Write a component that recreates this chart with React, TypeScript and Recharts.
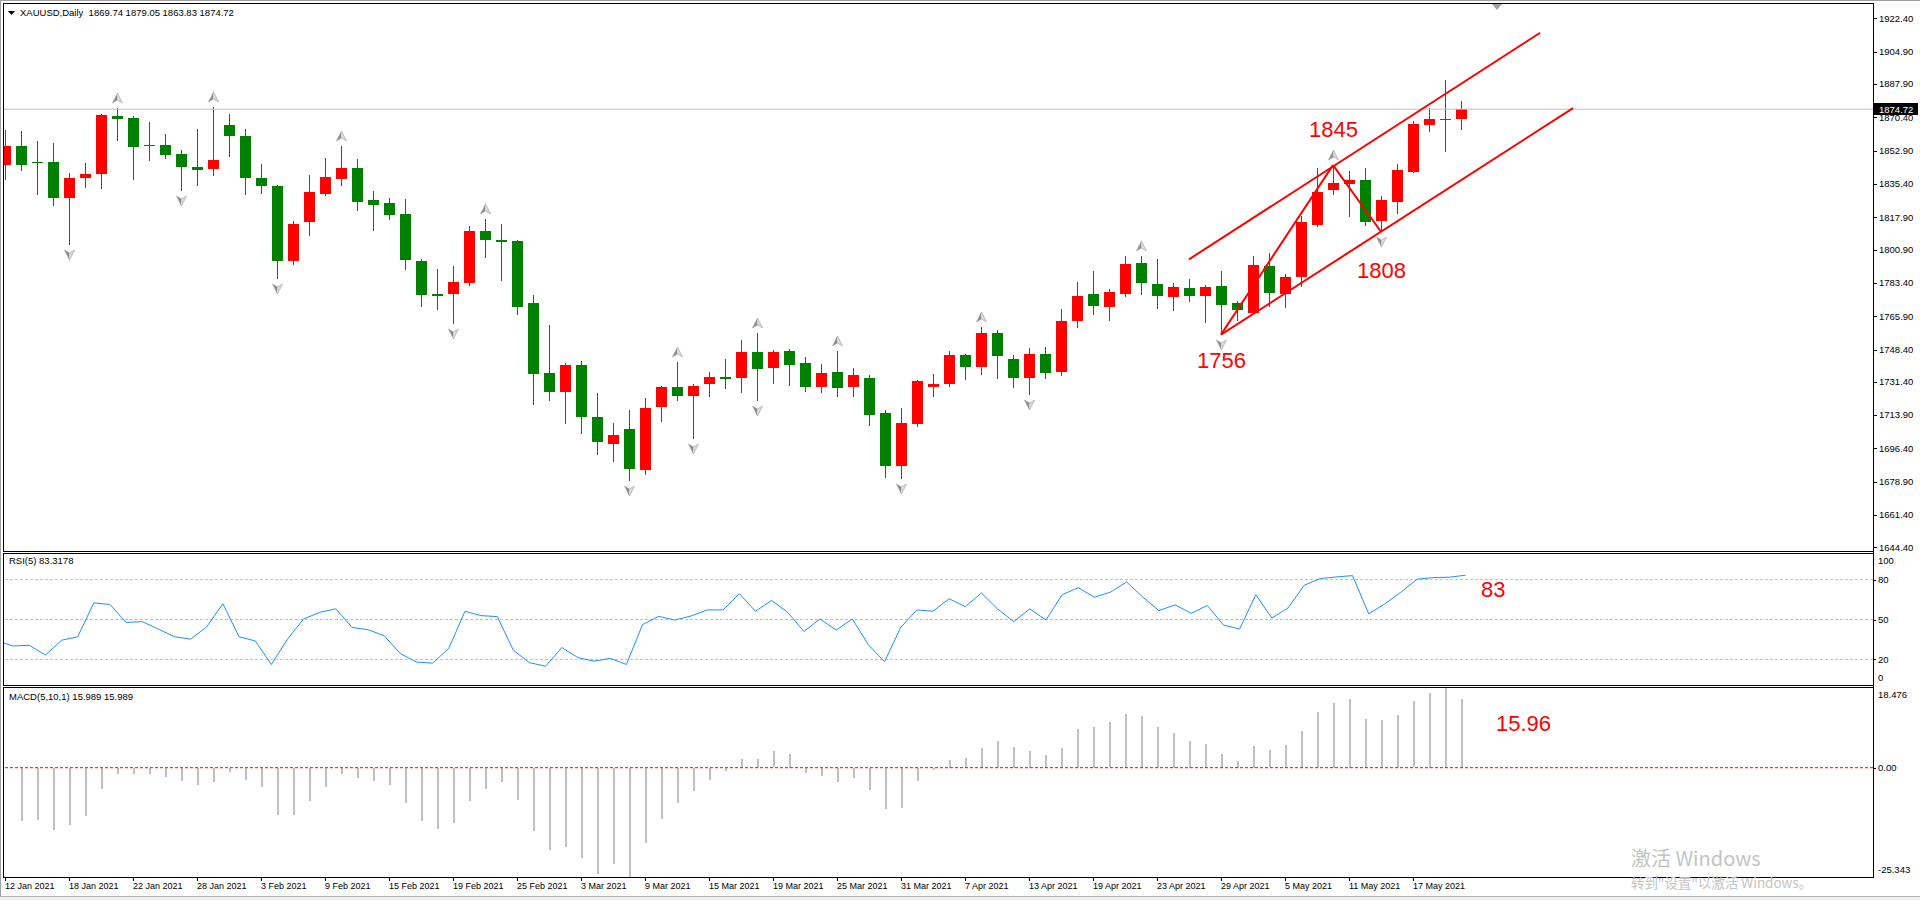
import React from 'react';
import { ComposedChart, Bar, Line, XAxis, YAxis, ReferenceLine } from 'recharts';

const dates = [
  '12 Jan', '13 Jan', '14 Jan', '15 Jan', '18 Jan', '19 Jan', '20 Jan', '21 Jan', '22 Jan', '25 Jan', '26 Jan', '27 Jan', '28 Jan', '29 Jan',
  '1 Feb', '2 Feb', '3 Feb', '4 Feb', '5 Feb', '8 Feb', '9 Feb', '10 Feb', '11 Feb', '12 Feb', '15 Feb', '16 Feb', '17 Feb', '18 Feb', '19 Feb', '22 Feb', '23 Feb', '24 Feb', '25 Feb', '26 Feb',
  '1 Mar', '2 Mar', '3 Mar', '4 Mar', '5 Mar', '8 Mar', '9 Mar', '10 Mar', '11 Mar', '12 Mar', '15 Mar', '16 Mar', '17 Mar', '18 Mar', '19 Mar', '22 Mar', '23 Mar', '24 Mar', '25 Mar', '26 Mar', '29 Mar', '30 Mar', '31 Mar',
  '1 Apr', '5 Apr', '6 Apr', '7 Apr', '8 Apr', '9 Apr', '12 Apr', '13 Apr', '14 Apr', '15 Apr', '16 Apr', '19 Apr', '20 Apr', '21 Apr', '22 Apr', '23 Apr', '26 Apr', '27 Apr', '28 Apr', '29 Apr', '30 Apr',
  '3 May', '4 May', '5 May', '6 May', '7 May', '10 May', '11 May', '12 May', '13 May', '14 May', '17 May', '18 May', '19 May', '20 May',
];

const opens = [
  1845.3, 1855.6, 1846.8, 1847.2, 1828.1, 1838.5, 1840.6, 1871.2, 1870.2, 1855.2, 1856.1, 1850.9, 1844.5, 1843.1,
  1866.5, 1860.8, 1838.4, 1834.2, 1794.7, 1815.6, 1830.2, 1838.0, 1843.6, 1826.9, 1825.3, 1819.6, 1795.1, 1777.8, 1777.5, 1783.2, 1810.7, 1805.8, 1805.5, 1772.6,
  1736.0, 1726.3, 1740.1, 1713.1, 1698.8, 1706.4, 1685.1, 1718.0, 1728.7, 1724.2, 1730.4, 1733.7, 1733.5, 1746.9, 1738.7, 1747.4, 1741.1, 1728.9, 1736.5, 1728.9, 1733.4, 1715.2, 1687.3,
  1709.0, 1728.9, 1730.4, 1745.3, 1739.2, 1757.2, 1743.4, 1733.2, 1746.0, 1736.8, 1763.3, 1777.7, 1770.6, 1777.8, 1793.7, 1782.8, 1775.8, 1780.8, 1776.3, 1781.8, 1773.0,
  1767.4, 1792.2, 1777.8, 1786.6, 1814.1, 1832.3, 1835.6, 1837.4, 1815.9, 1825.9, 1841.8, 1866.6, 1869.6, 1869.74,
];
const highs = [
  1864.0, 1863.4, 1858.2, 1857.1, 1841.3, 1846.2, 1872.1, 1875.4, 1871.2, 1868.1, 1861.8, 1853.5, 1864.5, 1876.1,
  1872.3, 1864.5, 1845.7, 1835.1, 1816.0, 1839.9, 1849.3, 1855.6, 1848.3, 1831.6, 1827.9, 1827.4, 1796.1, 1790.9, 1792.5, 1813.3, 1817.0, 1814.4, 1805.8, 1776.8,
  1761.4, 1741.1, 1742.2, 1725.6, 1710.0, 1716.8, 1723.0, 1729.0, 1741.7, 1730.1, 1736.5, 1743.2, 1753.6, 1757.2, 1748.4, 1748.9, 1744.3, 1740.6, 1747.4, 1738.6, 1734.9, 1716.8, 1717.8,
  1732.3, 1735.4, 1747.4, 1746.3, 1760.4, 1758.8, 1745.5, 1749.1, 1749.6, 1769.9, 1783.9, 1789.6, 1780.2, 1797.4, 1797.4, 1795.8, 1783.4, 1785.4, 1782.3, 1789.6, 1774.0,
  1797.4, 1798.9, 1788.0, 1818.4, 1843.7, 1845.3, 1842.0, 1843.7, 1828.9, 1845.8, 1868.6, 1875.4, 1890.2, 1879.05,
];
const lows = [
  1837.5, 1842.2, 1829.7, 1823.7, 1803.1, 1833.2, 1832.6, 1858.2, 1837.5, 1847.4, 1848.3, 1831.8, 1834.4, 1839.6,
  1849.5, 1829.7, 1830.0, 1785.7, 1792.6, 1808.3, 1829.0, 1834.4, 1821.3, 1810.9, 1816.6, 1790.0, 1770.7, 1769.1, 1761.7, 1781.8, 1796.3, 1784.5, 1766.5, 1719.0,
  1721.6, 1709.0, 1704.0, 1693.1, 1689.4, 1679.4, 1682.7, 1710.2, 1721.1, 1701.2, 1723.7, 1727.8, 1725.8, 1721.1, 1730.4, 1729.4, 1726.3, 1725.8, 1723.7, 1723.7, 1708.1, 1681.1, 1680.6,
  1707.6, 1723.2, 1728.9, 1732.5, 1735.1, 1733.0, 1728.0, 1724.4, 1732.7, 1734.7, 1759.7, 1766.4, 1763.3, 1775.8, 1776.8, 1769.5, 1768.5, 1773.2, 1762.3, 1756.2, 1763.6,
  1767.1, 1770.6, 1770.0, 1781.5, 1812.7, 1829.6, 1818.0, 1813.2, 1810.1, 1819.8, 1841.3, 1862.9, 1852.3, 1863.83,
];
const closes = [
  1855.2, 1845.3, 1846.2, 1828.1, 1838.4, 1840.5, 1871.8, 1869.8, 1854.7, 1856.1, 1850.5, 1844.3, 1842.7, 1847.8,
  1860.5, 1838.5, 1834.4, 1794.7, 1814.4, 1831.1, 1838.9, 1843.6, 1826.0, 1824.5, 1819.2, 1795.2, 1777.0, 1776.5, 1784.1, 1810.7, 1806.2, 1805.1, 1770.7, 1735.6,
  1726.3, 1740.1, 1712.8, 1699.8, 1703.3, 1685.8, 1717.8, 1728.7, 1724.2, 1729.2, 1733.9, 1733.0, 1746.9, 1738.2, 1746.9, 1740.3, 1728.9, 1736.0, 1728.3, 1734.9, 1713.8, 1687.3, 1710.0,
  1731.8, 1730.2, 1745.3, 1739.2, 1757.2, 1745.0, 1733.2, 1746.0, 1736.3, 1763.6, 1776.6, 1771.1, 1778.7, 1793.2, 1783.5, 1776.3, 1781.3, 1776.3, 1781.3, 1771.6, 1769.0,
  1792.7, 1778.3, 1786.5, 1815.2, 1831.0, 1835.8, 1837.4, 1815.4, 1826.8, 1842.7, 1867.0, 1869.6, 1869.3, 1874.72,
];

const rsiValues = [
  33.9, 30.1, 30.6, 23.3, 34.4, 37.0, 62.5, 61.3, 47.8, 48.4, 42.8, 37.0, 35.2, 44.6,
  61.8, 37.0, 33.9, 16.2, 35.2, 50.4, 55.4, 58.0, 44.1, 42.3, 37.7, 24.3, 18.0, 17.2, 28.4, 56.2, 52.9, 52.2, 26.8, 17.5,
  14.9, 28.9, 21.3, 18.7, 20.8, 16.2, 46.1, 52.4, 49.6, 52.6, 57.2, 57.2, 69.4, 56.2, 64.3, 55.4, 41.0, 50.4, 42.0, 50.4, 30.9, 18.2, 44.1,
  57.2, 56.2, 65.6, 59.7, 69.9, 58.0, 48.4, 58.0, 49.6, 68.6, 73.9, 66.8, 70.6, 78.2, 66.8, 56.7, 61.0, 54.7, 60.5, 45.8, 42.8,
  68.6, 51.1, 58.7, 75.7, 80.8, 82.0, 83.0, 54.2, 61.8, 70.6, 80.3, 81.5, 81.8, 83.3178,
];

const macdValues: (number | null)[] = [
  null, -12.4, -12.1, -14.3, -13.3, -11.2, -4.9, -1.4, -1.4, -1.3, -2.2, -3.1, -3.9, -3.3,
  -0.9, -2.7, -4.5, -10.8, -11.0, -7.7, -4.3, -1.4, -2.4, -2.9, -4.0, -8.0, -12.4, -14.2, -12.8, -7.7, -4.9, -3.3, -7.4, -14.7,
  -19.1, -18.3, -20.9, -24.5, -22.3, -25.343, -17.5, -11.8, -8.2, -5.4, -2.7, -0.8, 1.9, 2.1, 3.8, 3.2, -1.2, -1.8, -3.2, -2.4, -5.0, -9.6, -9.2,
  -3.0, -0.5, 1.8, 2.2, 4.6, 6.3, 4.8, 3.9, 2.9, 4.5, 9.0, 9.5, 10.5, 12.5, 12.0, 9.5, 8.0, 6.3, 5.5, 3.2, 1.6,
  5.0, 4.0, 5.2, 8.6, 13.0, 15.0, 16.0, 11.3, 11.0, 12.2, 15.4, 17.4, 18.476, 15.989,
];

const fractalUp = [7, 13, 21, 30, 42, 47, 52, 61, 71, 83];
const fractalDown = [4, 11, 17, 28, 39, 43, 47, 56, 64, 76, 86];

const priceTicks = [1644.4, 1661.4, 1678.9, 1696.4, 1713.9, 1731.4, 1748.4, 1765.9, 1783.4, 1800.9, 1817.9, 1835.4, 1852.9, 1870.4, 1887.9, 1904.9, 1922.4];
const rsiTicks = [0, 20, 50, 80, 100];
const rsiLevels = [20, 50, 80];
const macdTicks = [-25.343, 0, 18.476];
const bidPrice = 1874.72;
const shiftBars = 25;

const upperChannel = [{ x: 74, y: 1795.8 }, { x: 95.95, y: 1914.9 }];
const lowerChannel = [{ x: 76, y: 1756.2 }, { x: 98, y: 1875.3 }];
const zigzag = [{ x: 76, y: 1756.2 }, { x: 83, y: 1845.3 }, { x: 86, y: 1810.3 }];

const rows = Array.from({ length: dates.length + shiftBars }, (_, i) =>
  i < dates.length
    ? {
        i,
        date: dates[i],
        o: opens[i],
        h: highs[i],
        l: lows[i],
        c: closes[i],
        range: [lows[i], highs[i]],
        rsi: rsiValues[i],
        macd: macdValues[i],
        up: fractalUp.includes(i),
        dn: fractalDown.includes(i),
      }
    : { i }
);

const FONT = '"Liberation Sans", Arial, sans-serif';
const CJK = '"Noto Sans CJK SC", "Noto Sans", sans-serif';
const CHART_W = 1923;

function Arrow({ cx, y, dir }: { cx: number; y: number; dir: number }) {
  const tip = y + dir * 10;
  const notch = y + dir * 3;
  return (
    <g>
      <path d={`M${cx},${tip} L${cx - 5},${y} L${cx},${notch} Z`} fill="#8c8c8c" />
      <path d={`M${cx},${tip} L${cx + 5},${y} L${cx},${notch} Z`} fill="#dcdcdc" />
      <path d={`M${cx},${tip} L${cx + 5},${y} L${cx},${notch} L${cx - 5},${y} Z`} fill="none" stroke="#a0a0a0" strokeWidth={0.6} />
    </g>
  );
}

function Candle(props: any) {
  const { x, y, width, height, payload } = props;
  if (!payload || payload.o == null || x == null || y == null) return null;
  const { o, h, l, c, up, dn } = payload;
  const top = Math.min(y, y + height);
  const span = Math.abs(height);
  const py = (v: number) => (h === l ? top : top + ((h - v) / (h - l)) * span);
  const cx = Math.floor(x + width / 2);
  const color = c > o ? '#FF0000' : '#008000';
  const yh = Math.round(top);
  const yl = Math.round(top + span);
  const y1 = Math.round(py(Math.max(o, c)));
  const y2 = Math.round(py(Math.min(o, c)));
  const ac = cx + 0.5;
  return (
    <g>
      <rect x={cx} y={yh} width={1} height={Math.max(1, yl - yh)} fill={color} />
      <rect x={cx - 5} y={y1} width={11} height={Math.max(1, y2 - y1)} fill={color} />
      {up && <Arrow cx={ac} y={yh - 5} dir={-1} />}
      {dn && <Arrow cx={ac} y={yl + 5} dir={1} />}
    </g>
  );
}

function MacdBar(props: any) {
  const { x, y, width, height, payload } = props;
  if (!payload || payload.macd == null || x == null || y == null) return null;
  const top = Math.min(y, y + height);
  const h = Math.abs(height);
  const cx = Math.floor(x + width / 2);
  return <rect x={cx} y={Math.round(top)} width={2} height={Math.max(1, Math.round(h))} fill="#C0C0C0" />;
}

const PriceTick = (p: any) => {
  const { x, y, payload } = p;
  const yy = Math.round(y) + 0.5;
  return (
    <g>
      <line x1={x} x2={x + 4} y1={yy} y2={yy} stroke="#000" />
      <text x={x + 6} y={y} dy="0.35em" fontSize={9.5} fontFamily={FONT} fill="#000" textAnchor="start">
        {Number(payload.value).toFixed(2)}
      </text>
    </g>
  );
};

const RsiTick = (p: any) => {
  const { x, y, payload } = p;
  const v = Number(payload.value);
  const off = v === 100 ? 8 : v === 0 ? -8 : 0;
  const yy = Math.round(y) + 0.5;
  return (
    <g>
      {v !== 0 && v !== 100 && <line x1={x} x2={x + 3} y1={yy} y2={yy} stroke="#000" />}
      <text x={x + 5} y={y + off} dy="0.35em" fontSize={9.5} fontFamily={FONT} fill="#000" textAnchor="start">
        {String(v)}
      </text>
    </g>
  );
};

const MacdTick = (p: any) => {
  const { x, y, payload } = p;
  const v = Number(payload.value);
  const off = v > 0 ? 7 : v < 0 ? -7 : 0;
  const label = v === 0 ? '0.00' : v.toFixed(3);
  const yy = Math.round(y) + 0.5;
  return (
    <g>
      {v === 0 && <line x1={x} x2={x + 3} y1={yy} y2={yy} stroke="#000" />}
      <text x={x + 5} y={y + off} dy="0.35em" fontSize={9.5} fontFamily={FONT} fill="#000" textAnchor="start">
        {label}
      </text>
    </g>
  );
};

const TimeTick = (p: any) => {
  const { x, y, payload } = p;
  const i = Number(payload.value);
  if (!(i < dates.length)) return null;
  const xx = Math.floor(x);
  return (
    <g>
      <line x1={xx + 0.5} x2={xx + 0.5} y1={y} y2={y + 4} stroke="#000" />
      <text x={xx} y={y + 12} fontSize={9} fontFamily={FONT} fill="#000" textAnchor="start">
        {dates[i] + ' 2021'}
      </text>
    </g>
  );
};

const BidLabel = (props: any) => {
  const vb = props.viewBox || {};
  const yy = vb.y;
  const xr = (vb.x || 0) + (vb.width || 0);
  if (yy == null) return null;
  return (
    <g>
      <rect x={xr + 1} y={Math.round(yy) - 6} width={44} height={12} fill="#000" />
      <text x={xr + 6} y={yy} dy="0.35em" fontSize={9.5} fontFamily={FONT} fill="#fff" textAnchor="start">
        {bidPrice.toFixed(2)}
      </text>
    </g>
  );
};

const red = '#FF0000';

export default function App() {
  const hLine = (y: number, x1 = 3, x2 = 1874, color = '#000') => (
    <line x1={x1} x2={x2} y1={y + 0.5} y2={y + 0.5} stroke={color} strokeWidth={1} />
  );
  const vLine = (x: number, y1: number, y2: number, color = '#000') => (
    <line x1={x + 0.5} x2={x + 0.5} y1={y1} y2={y2} stroke={color} strokeWidth={1} />
  );
  return (
    <div style={{ position: 'absolute', left: 0, top: 0, width: 1920, height: 900, background: '#fff', overflow: 'hidden' }}>
      {/* Main price chart */}
      <div style={{ position: 'absolute', left: -3, top: 0 }}>
        <ComposedChart width={CHART_W} height={555} data={rows} margin={{ top: 4, right: 0, bottom: 4, left: 0 }} barCategoryGap={0} barGap={0}>
          <XAxis dataKey="i" type="category" hide padding={{ left: 0, right: 4 }} />
          <XAxis xAxisId="num" dataKey="i" type="number" domain={[-0.5, 116.5]} allowDataOverflow hide padding={{ left: 0, right: 4 }} />
          <YAxis
            orientation="right"
            width={47}
            domain={[1642.5, 1930]}
            allowDataOverflow
            ticks={priceTicks}
            interval={0}
            axisLine={false}
            tickLine={false}
            tickSize={0}
            tickMargin={0}
            tick={<PriceTick />}
          />
          <ReferenceLine y={bidPrice} stroke="#C0C0C0" strokeWidth={1} label={<BidLabel />} />
          <Bar dataKey={(d: any) => d.range} shape={(p: any) => <Candle {...p} />} isAnimationActive={false} />
          <ReferenceLine xAxisId="num" segment={upperChannel} stroke={red} strokeWidth={2} />
          <ReferenceLine xAxisId="num" segment={lowerChannel} stroke={red} strokeWidth={2} />
          <ReferenceLine xAxisId="num" segment={[zigzag[0], zigzag[1]]} stroke={red} strokeWidth={2} />
          <ReferenceLine xAxisId="num" segment={[zigzag[1], zigzag[2]]} stroke={red} strokeWidth={2} />
        </ComposedChart>
      </div>

      {/* RSI */}
      <div style={{ position: 'absolute', left: -3, top: 553 }}>
        <ComposedChart width={CHART_W} height={133} data={rows} margin={{ top: 0, right: 0, bottom: 0, left: 0 }}>
          <XAxis dataKey="i" type="category" hide padding={{ left: 0, right: 4 }} />
          <YAxis
            orientation="right"
            width={47}
            domain={[0, 100]}
            allowDataOverflow
            ticks={rsiTicks}
            interval={0}
            axisLine={false}
            tickLine={false}
            tickSize={0}
            tickMargin={0}
            tick={<RsiTick />}
          />
          {rsiLevels.map((lv) => (
            <ReferenceLine key={lv} y={lv} stroke="#C0C0C0" strokeDasharray="3 2" />
          ))}
          <Line dataKey="rsi" stroke="#1E90FF" strokeWidth={1} dot={false} isAnimationActive={false} />
        </ComposedChart>
      </div>

      {/* MACD */}
      <div style={{ position: 'absolute', left: -3, top: 688 }}>
        <ComposedChart width={CHART_W} height={209} data={rows} margin={{ top: 0, right: 0, bottom: 0, left: 0 }} barCategoryGap={0} barGap={0}>
          <XAxis
            dataKey="i"
            type="category"
            height={20}
            padding={{ left: 0, right: 4 }}
            interval={3}
            axisLine={false}
            tickLine={false}
            tickSize={0}
            tickMargin={0}
            tick={<TimeTick />}
          />
          <YAxis
            orientation="right"
            width={47}
            domain={[-25.343, 18.476]}
            allowDataOverflow
            ticks={macdTicks}
            interval={0}
            axisLine={false}
            tickLine={false}
            tickSize={0}
            tickMargin={0}
            tick={<MacdTick />}
          />
          <ReferenceLine y={0} stroke={red} strokeDasharray="3 2" />
          <Bar dataKey="macd" shape={(p: any) => <MacdBar {...p} />} isAnimationActive={false} />
        </ComposedChart>
      </div>

      {/* Overlay: frames, headers, annotations */}
      <svg width={1920} height={900} style={{ position: 'absolute', left: 0, top: 0, pointerEvents: 'none' }}>
        <rect x={0} y={0} width={3} height={900} fill="#fff" />
        {hLine(0, 0, 1920, '#a0a0a0')}
        {vLine(0, 0, 896, '#a0a0a0')}
        {hLine(3)}
        {hLine(551)}
        {hLine(553)}
        {hLine(685)}
        {hLine(687)}
        {hLine(877)}
        {vLine(3, 3, 552)}
        {vLine(3, 553, 686)}
        {vLine(3, 687, 878)}
        {vLine(1873, 3, 878)}
        <rect x={0} y={896} width={1920} height={4} fill="#f0f0f0" />
        {hLine(896, 0, 1920, '#b4b4b4')}

        {/* chart shift marker */}
        <polygon points="1492,4 1502,4 1497,10" fill="#a0a0a0" />

        {/* headers */}
        <polygon points="8,11 15,11 11.5,15" fill="#000" />
        <text x={20} y={13} dy="0.35em" fontSize={9.5} fontFamily={FONT} fill="#000" style={{ whiteSpace: 'pre' }}>
          {'XAUUSD,Daily  1869.74 1879.05 1863.83 1874.72'}
        </text>
        <text x={9} y={561} dy="0.35em" fontSize={9.5} fontFamily={FONT} fill="#000">
          RSI(5) 83.3178
        </text>
        <text x={9} y={697} dy="0.35em" fontSize={9.5} fontFamily={FONT} fill="#000">
          MACD(5,10,1) 15.989 15.989
        </text>

        {/* annotations */}
        <text x={1309} y={137} fontSize={22} fontFamily={FONT} fill={red}>1845</text>
        <text x={1357} y={278} fontSize={22} fontFamily={FONT} fill={red}>1808</text>
        <text x={1197} y={368} fontSize={22} fontFamily={FONT} fill={red}>1756</text>
        <text x={1481} y={597} fontSize={22} fontFamily={FONT} fill={red}>83</text>
        <text x={1496} y={731} fontSize={22} fontFamily={FONT} fill={red}>15.96</text>

        {/* watermark */}
        <text x={1631} y={866} fontSize={20} fontFamily={CJK} fill="#c4c4c4">
          激活 Windows
        </text>
        <text x={1631} y={888} fontSize={13.5} fontFamily={CJK} fill="#c4c4c4">
          {'转到"设置"以激活 Windows。'}
        </text>
      </svg>
    </div>
  );
}
